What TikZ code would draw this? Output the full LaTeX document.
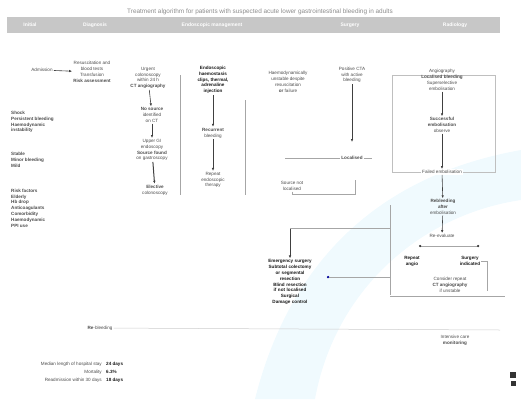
\documentclass[tikz,border=0pt]{standalone}
\usepackage{fontspec}
\setmainfont{Liberation Sans}
\usetikzlibrary{arrows.meta}
\tikzset{
  t/.style={font=\fontsize{4.6}{5.8}\selectfont, align=center, inner sep=1pt, text=black!70},
  tb/.style={t, font=\fontsize{4.6}{5.8}\selectfont\bfseries, text=black!90},
  tl/.style={t, align=left, anchor=west},
  hd/.style={font=\fontsize{5}{6}\selectfont\bfseries, text=white, inner sep=1pt},
  ln/.style={draw=black!35, line width=0.5pt},
  ar/.style={draw=black!75, line width=0.6pt, -{Latex[length=3pt,width=2.5pt]}},
  dot/.style={circle, fill=black!80, inner sep=0pt, minimum size=2.5pt},
}
\begin{document}
\begin{tikzpicture}[x=1pt,y=-1pt]
\useasboundingbox (0,0) rectangle (521,399);
% watermark band
\fill[cyan!6] (255,399) .. controls (290,260) and (380,175) .. (521,150) -- (521,200) .. controls (420,215) and (335,290) .. (315,399) -- cycle;
% title and header bar
\node[t, text=black!45, font=\fontsize{6.4}{7}\selectfont] (title) at (260,12) {Treatment algorithm for patients with suspected acute lower gastrointestinal bleeding in adults};
\fill[black!22] (7,17) rectangle (500,33);
\node[hd] (h1) at (30,25) {Initial};
\node[hd] (h2) at (95,25) {Diagnosis};
\node[hd] (h3) at (212,25) {Endoscopic management};
\node[hd] (h4) at (350,25) {Surgery};
\node[hd] (h5) at (455,25) {Radiology};
% column 1
\node[t] (a1) at (42,70) {Admission};
\node[t] (b1) at (92,72) {Resuscitation and\\ blood tests\\ Transfusion\\ \textbf{Risk assessment}};
\draw[ar] (a1) -- (b1);
\node[tl] (L1) at (10,122) {\textbf{Shock}\\ \textbf{Persistent bleeding}\\ \textbf{Haemodynamic}\\ \textbf{instability}};
\node[tl] (L2) at (10,160) {\textbf{Stable}\\ \textbf{Minor bleeding}\\ \textbf{Mild}};
\node[tl] (L3) at (10,208) {\textbf{Risk factors}\\ \textbf{Elderly}\\ \textbf{Hb drop}\\ \textbf{Anticoagulants}\\ \textbf{Comorbidity}\\ \textbf{Haemodynamic}\\ \textbf{PPI use}};
% column 2
\node[t] (c1) at (148,78) {Urgent\\ colonoscopy\\ within 24 h\\ \textbf{CT angiography}};
\node[t] (c2) at (152,115) {\textbf{No source}\\ identified\\ on CT};
\node[t] (c3) at (152,150) {Upper GI\\ endoscopy\\ \textbf{Source found}\\ on gastroscopy};
\node[t] (c4) at (155,190) {\textbf{Elective}\\ colonoscopy};
\draw[ar] (c1) -- (c2);
\draw[ar] (c2) -- (c3);
\draw[ar, line width=1pt] (c3) -- (c4);
\coordinate (v1a) at (180,75);
\coordinate (v1b) at (180,195);
\draw[ln, line width=0.9pt] (v1a) -- (v1b);
% column 3
\node[tb] (d1) at (213,80) {Endoscopic\\ haemostasis\\ clips, thermal,\\ adrenaline\\ \textbf{injection}};
\node[t] (d2) at (213,133) {\textbf{Recurrent}\\ bleeding};
\node[t] (d3) at (213,180) {Repeat\\ endoscopic\\ therapy};
\draw[ar] (d1) -- (d2);
\draw[ar] (d2) -- (d3);
\coordinate (v2a) at (245,100);
\coordinate (v2b) at (245,195);
\draw[ln, line width=0.9pt] (v2a) -- (v2b);
% column 4
\node[t] (e1) at (288,82) {Haemodynamically\\ unstable despite\\ resuscitation\\ \textbf{or} failure};
\node[t] (e2) at (352,75) {Positive CTA\\ with active\\ bleeding};
\coordinate (e2b) at (352,142);
\draw[ar, line width=0.9pt] (e2) -- (e2b);
\coordinate (hl1) at (285,158);
\coordinate (hl2) at (372,158);
\draw[ln] (hl1) -- (hl2);
\node[t, fill=white] (hlab) at (352,158) {\textbf{Localised}};
\node[t] (e3) at (292,186) {Source not\\ localised};
\coordinate (e3r) at (355,194);
\coordinate (e3u) at (355,180);
\draw[ln] (e3) |- (e3r) -- (e3u);
% centre
\coordinate (ct) at (290,228);
\node[tb, text width=56pt] (f1) at (290,282) {Emergency surgery\\ Subtotal colectomy\\ or segmental\\ resection\\ Blind resection\\ if not localised\\ Surgical\\ Damage control};
\draw[ar, line width=0.9pt] (ct) -- (f1);
\coordinate (cr) at (390,228);
\draw[ln] (ct) -- (cr);
\coordinate (vr1) at (390,205);
\coordinate (vr2) at (390,295);
\draw[ln, line width=0.8pt] (vr1) -- (vr2);
\node[dot, fill=blue!60!black] (dd) at (328,277) {};
\coordinate (ddr) at (390,277);
\draw[ln] (dd) -- (ddr);
% right column
\draw[ln, draw=black!25] (392,75) rectangle (495,172);
\node[t] (r1) at (442,80) {Angiography\\ \textbf{Localised bleeding}\\ Superselective\\ embolisation};
\node[t] (r2) at (442,125) {\textbf{Successful}\\ \textbf{embolisation}\\ observe};
\node[t, fill=white] (r3) at (442,172) {Failed embolisation};
\draw[ar] (r1) -- (r2);
\draw[ar] (r2) -- (r3);
\node[t] (r4) at (443,207) {\textbf{Rebleeding}\\ \textbf{after}\\ embolisation};
\draw[ar] (r3) -- (r4);
\node[t] (r5) at (442,236) {Re-evaluate};
\draw[ar] (r4) -- (r5);
\coordinate (sl) at (420,246);
\coordinate (sr) at (478,246);
\draw[ln] (sl) -- (sr);
\node[dot] (s1) at (420,246) {};
\node[dot] (s2) at (478,246) {};
\node[tb] (r6) at (412,261) {Repeat\\ angio};
\node[tb] (r7) at (470,261) {Surgery\\ indicated};
\draw[ln] (r7.east) -| ++(6,30);
\node[t] (r8) at (450,285) {Consider repeat\\ \textbf{CT angiography}\\ if unstable};
\coordinate (bl) at (390,296);
\coordinate (br) at (505,296);
\draw[ln] (bl) -- (br);
\node[t] (r9) at (455,340) {Intensive care\\ \textbf{monitoring}};
% bottom
\node[t] (bt) at (100,328) {\textbf{Re}-bleeding};
\coordinate (btr) at (500,330);
\draw[ln, draw=black!20] (bt) -- (btr);
\node[t, anchor=east] (g1) at (103,364) {Median length of hospital stay};
\node[t, anchor=east] (g2) at (103,372) {Mortality};
\node[t, anchor=east] (g3) at (103,380) {Readmission within 30 days};
\node[tb, anchor=west] (v1) at (105,364) {24 days};
\node[tb, anchor=west] (v2) at (105,372) {6.3\%};
\node[tb, anchor=west] (v3) at (105,380) {18 days};
\fill[black!80] (510,372) rectangle (516,378);
\fill[black!80] (511,381) rectangle (516,386);
\end{tikzpicture}
\end{document}
